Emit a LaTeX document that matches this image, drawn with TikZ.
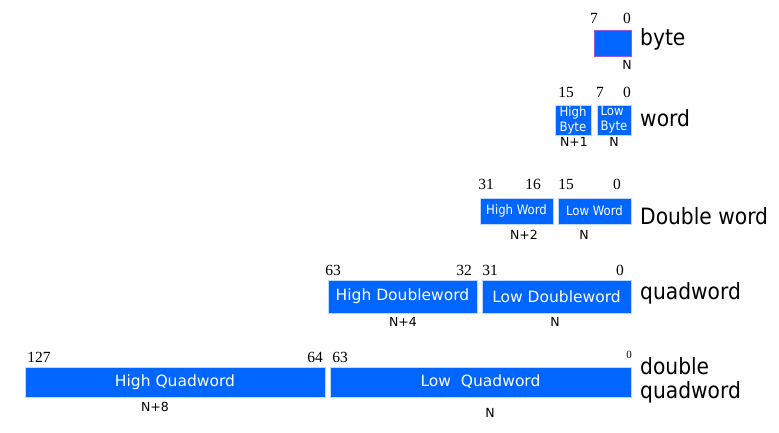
\documentclass[tikz,border=0pt]{standalone}
\usepackage{fontspec}
\setmainfont{DejaVu Sans}
\newfontfamily\numfont{Liberation Serif}
\newfontfamily\condfont{DejaVu Sans Condensed}
\definecolor{regblue}{RGB}{0,102,255}
\definecolor{edgeblue}{RGB}{190,215,255}
\begin{document}
\begin{tikzpicture}[x=1pt,y=-1pt,
  box/.style={fill=regblue, draw=edgeblue, line width=0.8pt, text=white, inner sep=0pt},
  btext/.style={font=\fontsize{15.5}{15.5}\selectfont},
  stext/.style={font=\condfont\fontsize{13}{15}\selectfont},
  num/.style={font=\numfont\fontsize{15.5}{15.5}\selectfont, inner sep=0pt},
  addr/.style={font=\fontsize{12.5}{12.5}\selectfont, inner sep=0pt},
  title/.style={font=\condfont\fontsize{22.5}{24}\selectfont, anchor=west, inner sep=0pt, align=left}]
\useasboundingbox (0,0) rectangle (779,432);

% byte
\node[box, draw={rgb,255:red,150;green,90;blue,220}, minimum width=37, minimum height=26] (b0) at (612.5,43) {};
\node[num] (b0h) at (594,18) {7};
\node[num] (b0l) at (627,18) {0};
\node[addr] (b0a) at (627,65) {N};
\node[title] (tb) at (640,39) {byte};

% word
\node[box, minimum width=36, minimum height=30, stext, align=left] (w1) at (573,120) {High\\Byte};
\node[box, minimum width=34, minimum height=30, stext, align=left] (w0) at (614,120) {Low\\Byte};
\node[num] (w15) at (566,92) {15};
\node[num] (w7) at (600,92) {7};
\node[num] (w0n) at (627,92) {0};
\node[addr] (w1a) at (574,142) {N+1};
\node[addr] (w0a) at (614,142) {N};
\node[title] (tw) at (640,118) {word};

% double word
\node[box, minimum width=73, minimum height=26, stext] (d1) at (516.5,211) {High Word};
\node[box, minimum width=73, minimum height=26, stext] (d0) at (594.5,211) {Low Word};
\node[num] (d31) at (486,184) {31};
\node[num] (d16) at (533,184) {16};
\node[num] (d15) at (566,184) {15};
\node[num] (d0n) at (617,184) {0};
\node[addr] (d1a) at (524,235) {N+2};
\node[addr] (d0a) at (584,235) {N};
\node[title] (td) at (640,216) {Double word};

% quadword
\node[box, minimum width=149, minimum height=33, btext] (q1) at (402.5,296.5) {High Doubleword};
\node[box, minimum width=149, minimum height=33, btext] (q0) at (556.5,296.5) {Low Doubleword};
\node[num] (q63) at (333,270) {63};
\node[num] (q32) at (464,270) {32};
\node[num] (q31) at (490,270) {31};
\node[num] (q0n) at (620,270) {0};
\node[addr] (q1a) at (403,322) {N+4};
\node[addr] (q0a) at (555,322) {N};
\node[title] (tq) at (640,293) {quadword};

% double quadword
\node[box, minimum width=300, minimum height=30, btext] (o1) at (175,382) {High Quadword};
\node[box, minimum width=301, minimum height=30, btext] (o0) at (480.5,382) {Low~~Quadword};
\node[num] (o127) at (39,357) {127};
\node[num] (o64) at (315,357) {64};
\node[num] (o63) at (340,357) {63};
\node[num, font=\numfont\fontsize{11}{11}\selectfont] (o0n) at (629,355) {0};
\node[addr] (o1a) at (155,407) {N+8};
\node[addr] (o0a) at (490,413) {N};
\node[title] (to) at (640,380) {double\\quadword};
\end{tikzpicture}
\end{document}
